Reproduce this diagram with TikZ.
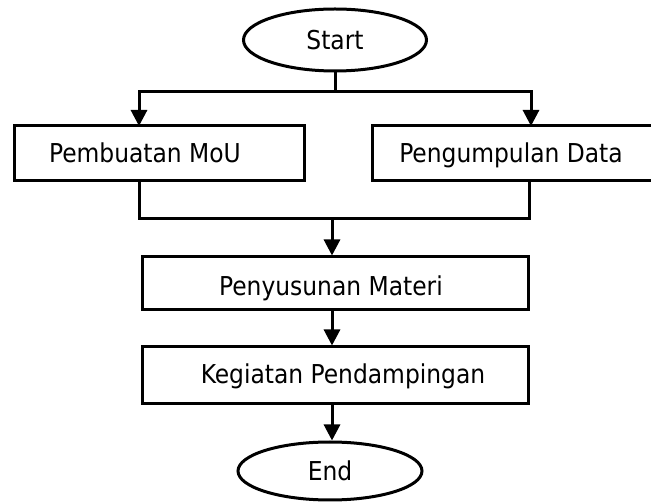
\documentclass[tikz,border=0pt]{standalone}
\usepackage{fontspec}
\setmainfont{DejaVu Sans Condensed}
\usetikzlibrary{arrows.meta,shapes.geometric}
\tikzset{
  every node/.style={font=\fontsize{26}{30}\selectfont},
  box/.style={draw, line width=3pt, rectangle, inner sep=0pt},
  oval/.style={draw, line width=3pt, ellipse, inner sep=0pt, text height=19pt, text depth=0pt},
  txt/.style={inner sep=0pt, anchor=base},
  conn/.style={line width=3pt},
  arr/.style={line width=3pt, -{Triangle[width=16pt,length=16pt]}}
}
\begin{document}
\begin{tikzpicture}[x=1pt,y=-1pt]
\useasboundingbox (0,0) rectangle (651,502);
\node[oval, minimum width=183pt, minimum height=62pt] (start) at (335,40) {Start};
\node[box, minimum width=290pt, minimum height=55pt] (mou) at (159,153.5) {};
\node[txt] (moutxt) at (145,163) {Pembuatan MoU};
\node[box, minimum width=280pt, minimum height=55pt] (data) at (512,153.5) {};
\node[txt] (datatxt) at (511,163) {Pengumpulan Data};
\node[box, minimum width=386pt, minimum height=53pt] (materi) at (335,283.5) {};
\node[txt] (materitxt) at (331,296) {Penyusunan Materi};
\node[box, minimum width=386pt, minimum height=57pt] (damping) at (335,375.5) {};
\node[txt] (dampingtxt) at (343,384) {Kegiatan Pendampingan};
\node[oval, minimum width=184pt, minimum height=58pt] (end) at (330,471) {End};
\coordinate (j1) at (335,92);
\coordinate (j2) at (332,219);
\coordinate (mouin) at (139,126);
\coordinate (datain) at (531,126);
\coordinate (mouout) at (139,181);
\coordinate (dataout) at (529,181);
\draw[conn] (start.south) -- (j1);
\draw[arr] (j1) -| (mouin);
\draw[arr] (j1) -| (datain);
\draw[conn] (mouout) |- (j2);
\draw[conn] (dataout) |- (j2);
\draw[arr] (j2) -- (materi.north -| j2);
\draw[arr] (materi.south -| j2) -- (damping.north -| j2);
\draw[arr] (damping.south -| j2) -- (end.north -| j2);
\end{tikzpicture}
\end{document}
